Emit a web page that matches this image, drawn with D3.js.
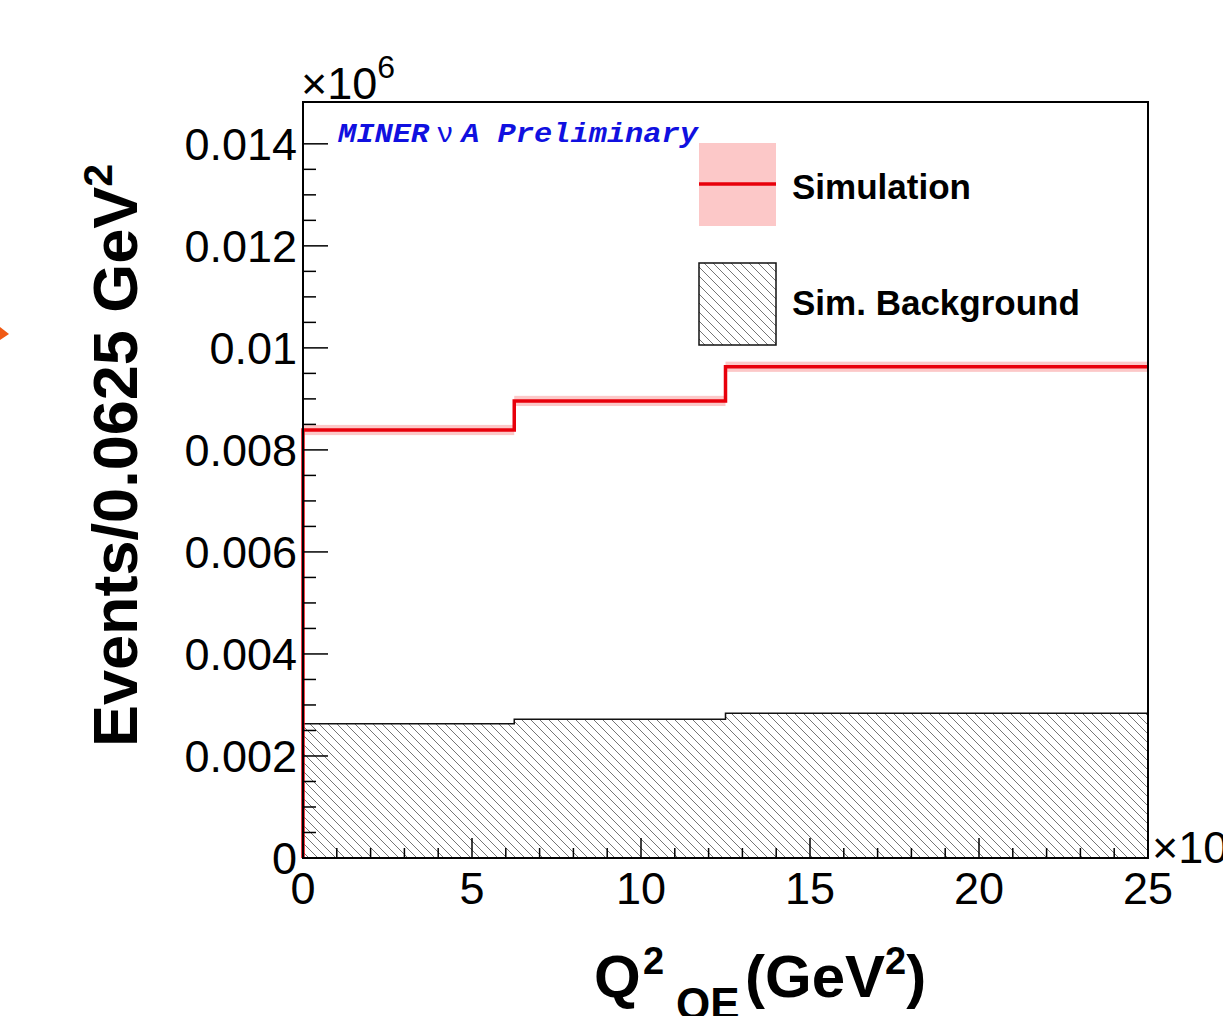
<!DOCTYPE html>
<html>
<head>
<meta charset="utf-8">
<script src="https://cdn.jsdelivr.net/npm/d3@7/dist/d3.min.js"></script>
<style>
  html, body { margin: 0; padding: 0; background: #fff; overflow: hidden; }
  svg { display: block; }
</style>
</head>
<body>
<script>
// ---- data ----
const binEdges = [0, 6.25, 12.5, 25];
const simValues = [0.00839, 0.00896, 0.00963];
const simErrors = [0.0001, 0.0001, 0.0001];
const bkgValues = [0.00263, 0.00272, 0.00284];
const yTickValues = [0, 0.002, 0.004, 0.006, 0.008, 0.01, 0.012, 0.014];
const yTickLabels = ["0", "0.002", "0.004", "0.006", "0.008", "0.01", "0.012", "0.014"];
const xTickValues = [0, 5, 10, 15, 20, 25];
const xTickLabels = ["0", "5", "10", "15", "20", "25"];
const legendLabels = ["Simulation", "Sim. Background"];

(function () {
const W = 1223, H = 1016;
const svg = d3.select("body").append("svg").attr("width", W).attr("height", H);

const pL = 303, pR = 1148, pT = 102, pB = 858;
const x = d3.scaleLinear().domain([0, 25]).range([pL, pR]);
const y = d3.scaleLinear().domain([0, 0.01482]).range([pB, pT]);

const FONT = "'Liberation Sans', Helvetica, Arial, sans-serif";

// hatch pattern
const defs = svg.append("defs");
const pat = defs.append("pattern").attr("id", "hatch")
  .attr("patternUnits", "userSpaceOnUse").attr("width", 9).attr("height", 9);
pat.append("path").attr("d", "M-2,-2 L11,11 M-2,7 L2,11 M7,-2 L11,2")
  .attr("stroke", "#666").attr("stroke-width", 0.9).attr("fill", "none");

const bins = simValues.map((v, i) => ({x0: binEdges[i], x1: binEdges[i + 1], v, e: simErrors[i], b: bkgValues[i]}));

function stepPath(vals) {
  const p = d3.path();
  p.moveTo(x(binEdges[0]), y(0));
  vals.forEach((v, i) => {
    p.lineTo(x(binEdges[i]), y(v));
    p.lineTo(x(binEdges[i + 1]), y(v));
  });
  return p.toString();
}

// background hatched area
const bkgPts = bins.map(d => ({x: d.x0, v: d.b})).concat([{x: binEdges[binEdges.length - 1], v: bkgValues[bkgValues.length - 1]}]);
const bkgArea = d3.area().curve(d3.curveStepAfter).x(d => x(d.x)).y0(y(0)).y1(d => y(d.v));
svg.append("path").attr("d", bkgArea(bkgPts)).attr("fill", "url(#hatch)");
const bkgLine = d3.line().curve(d3.curveStepAfter).x(d => x(d.x)).y(d => y(d.v));
svg.append("path").attr("d", bkgLine(bkgPts)).attr("fill", "none")
  .attr("stroke", "#111").attr("stroke-width", 1.5);

// simulation error band
svg.selectAll("rect.band").data(bins).join("rect").attr("class", "band")
  .attr("x", d => x(d.x0)).attr("width", d => x(d.x1) - x(d.x0))
  .attr("y", d => y(d.v + d.e)).attr("height", d => y(d.v - d.e) - y(d.v + d.e))
  .attr("fill", "#fcc8c8");

// simulation line
svg.append("path").attr("d", stepPath(simValues)).attr("fill", "none")
  .attr("stroke", "#e8000b").attr("stroke-width", 3.5);

// frame
svg.append("rect").attr("x", pL).attr("y", pT).attr("width", pR - pL).attr("height", pB - pT)
  .attr("fill", "none").attr("stroke", "#000").attr("stroke-width", 2);

// y ticks (inside)
const yMinor = d3.range(0, 29).map(i => i * 0.0005);
svg.selectAll("line.ymin").data(yMinor).join("line")
  .attr("x1", pL).attr("x2", (d, i) => pL + (i % 4 === 0 ? 25 : 13))
  .attr("y1", d => y(d)).attr("y2", d => y(d))
  .attr("stroke", "#000").attr("stroke-width", 1.5);
svg.selectAll("text.ylab").data(yTickValues).join("text")
  .attr("x", 297).attr("y", d => y(d) + 16)
  .attr("text-anchor", "end").attr("font-family", FONT).attr("font-size", 45)
  .text((d, i) => yTickLabels[i]);

// x ticks (inside)
const xMinor = d3.range(0, 26, 1);
svg.selectAll("line.xmin").data(xMinor).join("line")
  .attr("x1", d => x(d)).attr("x2", d => x(d))
  .attr("y1", pB).attr("y2", d => pB - (d % 5 === 0 ? 20 : 10))
  .attr("stroke", "#000").attr("stroke-width", 1.5);
svg.selectAll("text.xlab").data(xTickValues).join("text")
  .attr("x", d => x(d)).attr("y", 904)
  .attr("text-anchor", "middle").attr("font-family", FONT).attr("font-size", 45)
  .text((d, i) => xTickLabels[i]);

// multipliers
const m1 = svg.append("text").attr("x", 301).attr("y", 99).attr("font-family", FONT).attr("font-size", 45);
m1.append("tspan").text("×10");
m1.append("tspan").attr("font-size", 32).attr("dy", -21).text("6");
const m2 = svg.append("text").attr("x", 1152).attr("y", 863).attr("font-family", FONT).attr("font-size", 45);
m2.append("tspan").text("×10");

// MINERvA Preliminary
const mv = svg.append("text").attr("x", 338).attr("y", 142)
  .attr("font-family", "'Liberation Mono', 'Courier New', monospace")
  .attr("font-weight", "bold").attr("font-style", "italic").attr("font-size", 27)
  .attr("fill", "#1010e0").attr("textLength", 360).attr("lengthAdjust", "spacingAndGlyphs");
mv.append("tspan").text("MINER");
mv.append("tspan").attr("font-style", "normal").attr("font-weight", "normal").attr("font-family", FONT).text(" ν ");
mv.append("tspan").text("A Preliminary");

// legend
const lx = 699, lw = 77;
svg.append("rect").attr("x", lx).attr("y", 143).attr("width", lw).attr("height", 83).attr("fill", "#fcc8c8");
svg.append("line").attr("x1", lx).attr("x2", lx + lw).attr("y1", 184).attr("y2", 184)
  .attr("stroke", "#e8000b").attr("stroke-width", 3.5);
svg.append("rect").attr("x", lx).attr("y", 263).attr("width", lw).attr("height", 82)
  .attr("fill", "url(#hatch)").attr("stroke", "#111").attr("stroke-width", 1.5);
svg.selectAll("text.leg").data(legendLabels).join("text")
  .attr("x", 792).attr("y", (d, i) => i === 0 ? 199 : 315)
  .attr("font-family", FONT).attr("font-weight", "bold").attr("font-size", 35)
  .text(d => d);

// axis titles
const xt = svg.append("text").attr("y", 997)
  .attr("font-family", FONT).attr("font-weight", "bold").attr("font-size", 60);
xt.append("tspan").attr("x", 594).text("Q");
xt.append("tspan").attr("x", 643).attr("font-size", 38).attr("dy", -23).text("2");
xt.append("tspan").attr("x", 676).attr("font-size", 44).attr("dy", 45).text("QE");
xt.append("tspan").attr("x", 745).attr("dy", -22).text("(GeV");
xt.append("tspan").attr("font-size", 38).attr("dy", -23).text("2");
xt.append("tspan").attr("dy", 23).text(")");

const yt = svg.append("text").attr("transform", "translate(137,747) rotate(-90)")
  .attr("font-family", FONT).attr("font-weight", "bold").attr("font-size", 63);
yt.append("tspan").text("Events/0.0625 GeV");
yt.append("tspan").attr("font-size", 41).attr("dy", -25).text("2");

// orange marker at left edge
svg.append("path").attr("d", "M0,327 L9,334 L0,340 Z").attr("fill", "#f05a14");
})();
</script>
</body>
</html>
